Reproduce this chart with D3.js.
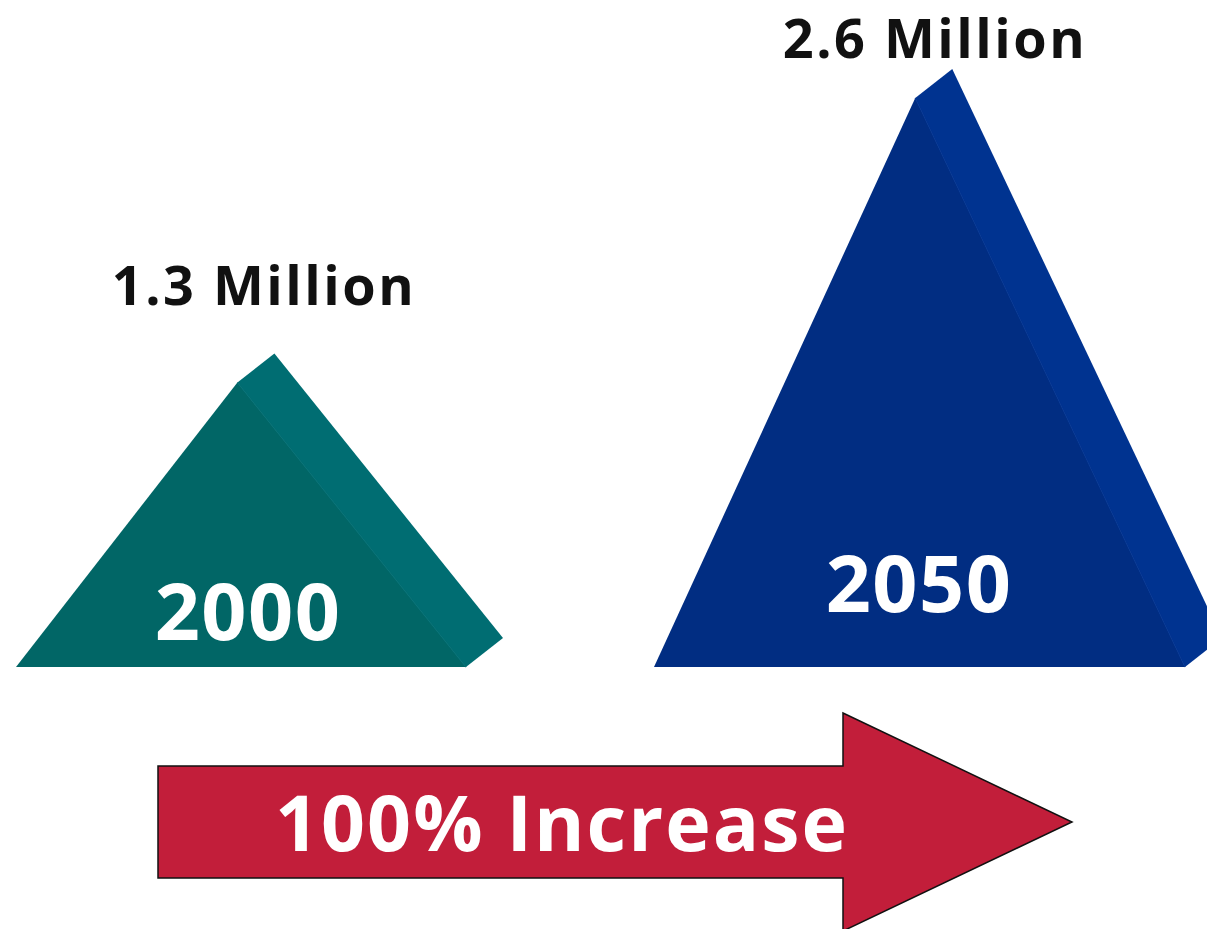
<!DOCTYPE html>
<html>
<head>
<meta charset="utf-8">
<script src="https://cdn.jsdelivr.net/npm/d3@7/dist/d3.min.js"></script>
<style>
  html, body { margin: 0; padding: 0; background: #ffffff; overflow: hidden; }
  svg { display: block; }
  text { font-family: "Open Sans", "DejaVu Sans", sans-serif; font-weight: 700; }
</style>
</head>
<body>
<svg id="chart" width="1207" height="929"></svg>
<script>
// ---- data ----
const years = ["2000", "2050"];
const values = [1.3, 2.6];            // millions
const valueLabels = ["1.3 Million", "2.6 Million"];
const frontColors = ["#016666", "#012d82"];
const sideColors = ["#006d72", "#003390"];
const arrowLabel = "100% Increase";

// ---- layout ----
const baseY = 667;
const leftX = [16, 654];
const baseW = [450, 531];
const apexFrac = 0.492;
const depth = { dx: 37, dy: -29 };
const yearPos = [{ x: 248, y: 640 }, { x: 919, y: 612 }];
const labelPos = [{ x: 264, y: 305 }, { x: 935, y: 58 }];

const svg = d3.select("#chart");

const h = d3.scaleLinear().domain([0, d3.max(values)]).range([0, 569]);

const shapes = years.map((yr, i) => {
  const L = leftX[i], R = leftX[i] + baseW[i];
  const ax = L + baseW[i] * apexFrac, ay = baseY - h(values[i]);
  return {
    yr, i, L, R, ax, ay,
    front: [[L, baseY], [ax, ay], [R, baseY]],
    side: [[ax, ay], [ax + depth.dx, ay + depth.dy], [R + depth.dx, baseY + depth.dy], [R, baseY]]
  };
});

const line = d3.line();
const g = svg.append("g");

g.selectAll("path.side").data(shapes).join("path")
  .attr("class", "side")
  .attr("d", d => line(d.side) + "Z")
  .attr("fill", d => sideColors[d.i]);

g.selectAll("path.front").data(shapes).join("path")
  .attr("class", "front")
  .attr("d", d => line(d.front) + "Z")
  .attr("fill", d => frontColors[d.i]);

g.selectAll("line.edge").data(shapes).join("line")
  .attr("x1", d => d.ax).attr("y1", d => d.ay)
  .attr("x2", d => d.R).attr("y2", baseY)
  .attr("stroke", d => sideColors[d.i]).attr("stroke-width", 1.5).attr("opacity", 0.8);

g.selectAll("text.year").data(shapes).join("text")
  .attr("class", "year")
  .attr("x", d => yearPos[d.i].x)
  .attr("y", d => yearPos[d.i].y)
  .attr("text-anchor", "middle")
  .attr("fill", "#ffffff")
  .attr("font-size", 79)
  .attr("letter-spacing", 1.5)
  .text(d => d.yr);

g.selectAll("text.val").data(shapes).join("text")
  .attr("class", "val")
  .attr("x", d => labelPos[d.i].x)
  .attr("y", d => labelPos[d.i].y)
  .attr("text-anchor", "middle")
  .attr("fill", "#111111")
  .attr("font-size", 54)
  .attr("letter-spacing", 2.5)
  .text(d => valueLabels[d.i]);

// arrow
const ax0 = 158, ax1 = 843, tipX = 1072, cy = 822, bodyHalf = 56, headHalf = 109;
const arrowPts = [
  [ax0, cy - bodyHalf], [ax1, cy - bodyHalf], [ax1, cy - headHalf], [tipX, cy],
  [ax1, cy + headHalf], [ax1, cy + bodyHalf], [ax0, cy + bodyHalf]
];
svg.append("path")
  .attr("d", line(arrowPts) + "Z")
  .attr("fill", "#c21e3a")
  .attr("stroke", "#111")
  .attr("stroke-width", 1.5);

svg.append("text")
  .attr("x", 562)
  .attr("y", 851)
  .attr("text-anchor", "middle")
  .attr("fill", "#ffffff")
  .attr("font-size", 77)
  .attr("letter-spacing", 2)
  .text(arrowLabel);
</script>
</body>
</html>
